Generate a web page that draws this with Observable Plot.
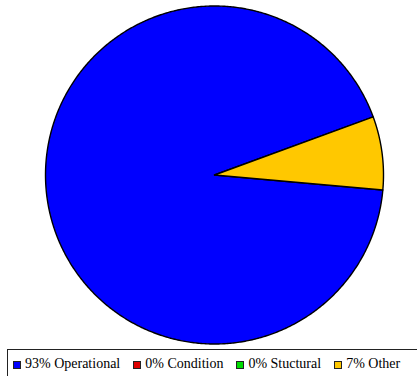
<!DOCTYPE html>
<html>
<head>
<meta charset="utf-8">
<script src="https://cdn.jsdelivr.net/npm/d3@7"></script>
<script src="https://cdn.jsdelivr.net/npm/@observablehq/plot@0.6"></script>
<style>
  html, body { margin: 0; padding: 0; background: #fff; overflow: hidden; }
  #chart svg { display: block; }
  .legend {
    margin-left: 7px;
    width: 430px;
    height: 30px;
    border: 1px solid #222;
    box-sizing: border-box;
    display: flex;
    align-items: flex-start;
    padding-left: 5px;
    padding-top: 7px;
    font-size: 14px;
    color: #000;
    white-space: nowrap;
  }
  .legend .item { display: flex; align-items: center; margin-right: 13px; line-height: 13px; }
  .legend .swatch {
    width: 8px; height: 8px; box-sizing: border-box;
    border: 1px solid #222; margin-right: 4px; margin-top: 2px;
  }
</style>
</head>
<body>
<div id="chart"></div>
<div class="legend" id="legend" style="font-family: 'Liberation Serif', 'DejaVu Serif', serif;"></div>
<script>
// Slice categories, shares (percent) and colours
const categories = ["Operational", "Condition", "Stuctural", "Other"];
const shares = [93, 0, 0, 7];
const sliceColors = ["#0000ff", "#dd0000", "#00cc00", "#ffc800"];
// Legend swatch colours
const legendColors = ["#0000ff", "#dd0000", "#00dd00", "#ffc800"];

// First slice starts just below three o'clock and runs clockwise
const startAngle = 95.1 * Math.PI / 180;

// Build a closed outline (centre → arc → centre) for every slice
const total = d3.sum(shares);
const outline = [];
let a = startAngle;
categories.forEach((key, i) => {
  const span = shares[i] / total * 2 * Math.PI;
  if (span > 0) {
    const steps = Math.max(2, Math.ceil(span / (Math.PI / 360)));
    outline.push({key, x: 0, y: 0});
    for (let s = 0; s <= steps; s++) {
      const t = a + span * s / steps;
      outline.push({key, x: Math.sin(t), y: Math.cos(t)});
    }
    outline.push({key, x: 0, y: 0});
  }
  a += span;
});

const chart = Plot.plot({
  width: 417,
  height: 349,
  marginTop: 0, marginRight: 0, marginBottom: 0, marginLeft: 0,
  x: {domain: [-1, 1], range: [45, 383], axis: null},
  y: {domain: [-1, 1], range: [343.5, 5.5], axis: null},
  color: {domain: categories, range: sliceColors},
  marks: [
    Plot.line(outline, {
      x: "x", y: "y", z: "key",
      fill: "key",
      stroke: "#000",
      strokeWidth: 1.4,
      strokeLinejoin: "round",
      curve: "linear"
    })
  ]
});
document.getElementById("chart").append(chart);

// Legend below the pie
const legend = d3.select("#legend");
categories.forEach((key, i) => {
  const item = legend.append("div").attr("class", "item");
  item.append("div").attr("class", "swatch").style("background", legendColors[i]);
  item.append("span").text(`${shares[i]}% ${key}`);
});
</script>
</body>
</html>
